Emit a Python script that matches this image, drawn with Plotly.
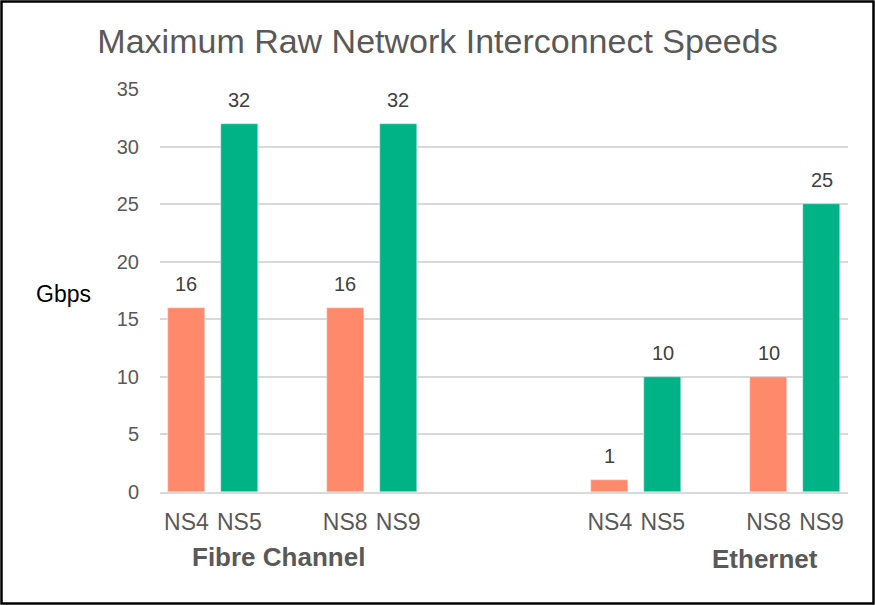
import plotly.graph_objects as go

groups = ["Fibre Channel", "Ethernet"]
pairs = [["NS4", "NS5"], ["NS8", "NS9"]]
# values per group, per pair
fibre_orange = [16, 16]
fibre_green = [32, 32]
eth_orange = [1, 10]
eth_green = [10, 25]

orange_vals = fibre_orange + eth_orange
green_vals = fibre_green + eth_green

ORANGE = "#FF8A6B"
GREEN = "#00B386"
GREY = "#595959"
FONT = "Liberation Sans, Arial, sans-serif"

# positions along axis (unit = one bar slot)
def pos(g, p, s):
    return g * 8 + p * 3 + s

ox, gx, tickvals, ticktext = [], [], [], []
for g in range(len(groups)):
    for p in range(len(pairs)):
        ox.append(pos(g, p, 0))
        gx.append(pos(g, p, 1))
        tickvals += [pos(g, p, 0), pos(g, p, 1)]
        ticktext += pairs[p]

fig = go.Figure()
fig.add_trace(go.Bar(x=ox, y=orange_vals, marker_color=ORANGE, width=0.7))
fig.add_trace(go.Bar(x=gx, y=green_vals, marker_color=GREEN, width=0.7))

for xs, vs in ((ox, orange_vals), (gx, green_vals)):
    for xv, v in zip(xs, vs):
        fig.add_annotation(x=xv, y=v, text=str(v), showarrow=False, xanchor="center",
                           yanchor="bottom", yshift=11, font=dict(size=20, color="#404040"))

L, R, T, B = 160, 27, 89, 113
W, H = 875, 605
pw, ph = W - L - R, H - T - B

fig.update_layout(
    width=W, height=H,
    margin=dict(l=L, r=R, t=T, b=B),
    paper_bgcolor="white", plot_bgcolor="white",
    showlegend=False,
    font=dict(family=FONT, color=GREY),
    title=dict(text="Maximum Raw Network Interconnect Speeds", x=0.5, xanchor="center",
               y=1 - 41 / H, yanchor="middle", font=dict(size=34, color=GREY)),
    xaxis=dict(range=[-0.5, 12.5], tickvals=tickvals, ticktext=ticktext,
               tickfont=dict(size=23, color=GREY), showgrid=False, zeroline=False,
               showline=True, linecolor="#D9D9D9", linewidth=2, ticks="", ticklabelstandoff=8),
    yaxis=dict(range=[0, 35], dtick=5, tickfont=dict(size=20, color=GREY),
               showgrid=True, gridcolor="#D9D9D9", gridwidth=1.5, zeroline=False,
               ticks="", ticklabelstandoff=20),
    bargap=0,
)

fig.add_annotation(text="Gbps", xref="paper", yref="paper", x=(63 - L) / pw, y=(492 - 294) / ph,
                   showarrow=False, font=dict(size=23, color="black"), xanchor="center", yanchor="middle")
fig.add_annotation(text="<b>Fibre Channel</b>", xref="x", yref="paper", x=(278 - 186) / 53,
                   y=(492 - 557) / ph, showarrow=False, font=dict(size=26, color=GREY),
                   xanchor="center", yanchor="middle")
fig.add_annotation(text="<b>Ethernet</b>", xref="x", yref="paper", x=(765 - 186) / 53,
                   y=(492 - 559) / ph, showarrow=False, font=dict(size=26, color=GREY),
                   xanchor="center", yanchor="middle")

fig.add_shape(type="rect", xref="paper", yref="paper",
              x0=(1.5 - L) / pw, x1=(873.5 - L) / pw,
              y0=(492 - 603.5) / ph, y1=(492 - 1.5) / ph,
              line=dict(color="black", width=2.5), fillcolor="rgba(0,0,0,0)")

fig.write_html("out.html", config={"displayModeBar": False},
               post_script="document.body.style.margin='0';")
